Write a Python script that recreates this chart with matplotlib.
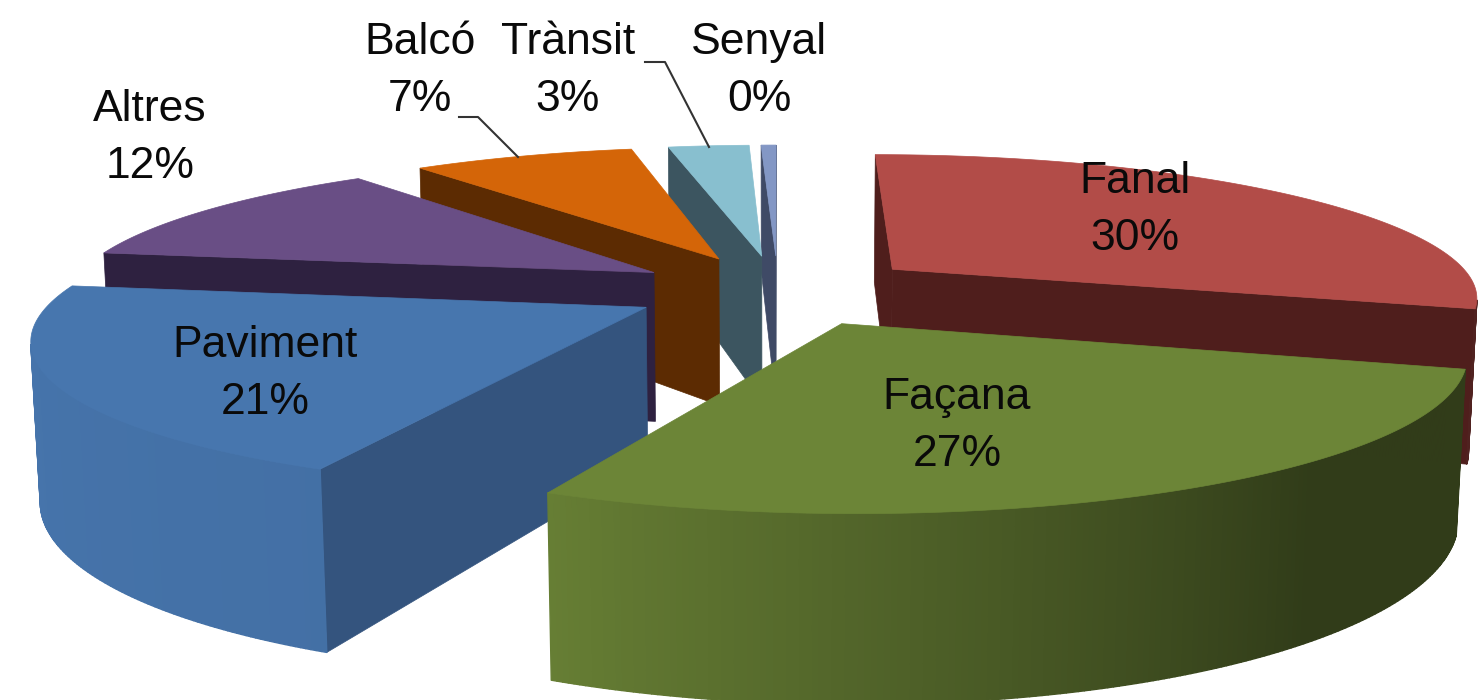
import numpy as np
import matplotlib
matplotlib.use("Agg")
import matplotlib.pyplot as plt
from matplotlib.collections import PolyCollection

plt.rcParams['font.family'] = ['Liberation Sans', 'DejaVu Sans']

# Dades
categories = ["Fanal", "Façana", "Paviment", "Altres", "Balcó", "Trànsit", "Senyal"]
values = [29.6, 27.4, 20.6, 12.1, 7.4, 2.7, 0.5]
explode = [0.25, 0.25, 0.25, 0.25, 0.25, 0.25, 0.25]

top_colors = ["#B24C48", "#6C8537", "#4776AE", "#694E85", "#D46508", "#88BFCF", "#8397C5"]
cut_colors = ["#4F1E1C", "#2E3816", "#34547E", "#2E2140", "#5C2B02", "#3C5560", "#3F4A66"]
label_pos = [(1135, 210), (957, 426), (265, 374), (150, 138), (420, 71), (568, 71), (759, 71)]

# camera
CX, CY = 778, 290
ELEV = np.radians(14.0)
DIST = 5.4
FOCAL = 3170
THICK = 0.27


def project(x, y, z):
    yc = y * np.sin(ELEV) + z * np.cos(ELEV)
    zc = DIST + y * np.cos(ELEV) - z * np.sin(ELEV)
    return CX + FOCAL * x / zc, CY - FOCAL * yc / zc


def quad_area(p):
    x, y = p[:, 0], p[:, 1]
    return 0.5 * np.sum(x * np.roll(y, -1) - np.roll(x, -1) * y)


def rim_shade(theta):
    # more light on the left side of the pie
    return np.interp(theta, [90, 140, 205, 280], [0.45, 0.45, 0.95, 1.0])


def darken(color, k):
    return tuple(np.array(matplotlib.colors.to_rgb(color)) * k)


fig = plt.figure(figsize=(14.84, 7), dpi=100)
ax = fig.add_axes([0, 0, 1, 1])
ax.set_xlim(0, 1484)
ax.set_ylim(700, 0)
ax.axis('off')

fractions = np.array(values) / np.sum(values)
edges = np.concatenate([[0], np.cumsum(fractions) * 360])

wedges = []
for i in range(len(values)):
    t = np.linspace(edges[i], edges[i + 1], max(4, int(edges[i + 1] - edges[i]) * 2))
    mid = np.radians((edges[i] + edges[i + 1]) / 2)
    ox, oy = explode[i] * np.sin(mid), explode[i] * np.cos(mid)
    wedges.append((oy, i, t, ox, oy))

# back to front
for _, i, t, ox, oy in sorted(wedges, key=lambda w: -w[0]):
    rad = np.radians(t)
    rx, ry = ox + np.sin(rad), oy + np.cos(rad)
    tx, ty = project(rx, ry, 0 * rx)
    bx, by = project(rx, ry, 0 * rx - THICK)
    ax0, ay0 = project(ox, oy, 0.0)
    ax1, ay1 = project(ox, oy, -THICK)

    # cut faces
    faces = [
        np.array([[ax0, ay0], [tx[0], ty[0]], [bx[0], by[0]], [ax1, ay1]]),
        np.array([[ax0, ay0], [ax1, ay1], [bx[-1], by[-1]], [tx[-1], ty[-1]]]),
    ]
    for f in faces:
        if quad_area(f) < 0:
            ax.add_patch(plt.Polygon(f, closed=True, fc=cut_colors[i], ec=cut_colors[i], lw=0.5))

    # rim, one small quad per step so the shade can change
    polys, cols = [], []
    for j in range(len(t) - 1):
        q = np.array([[tx[j], ty[j]], [tx[j + 1], ty[j + 1]], [bx[j + 1], by[j + 1]], [bx[j], by[j]]])
        if quad_area(q) < 0:
            polys.append(q)
            cols.append(darken(top_colors[i], rim_shade((t[j] + t[j + 1]) / 2)))
    if polys:
        ax.add_collection(PolyCollection(polys, facecolors=cols, edgecolors=cols, linewidths=1.0))

    # top
    top = np.column_stack([np.r_[ax0, tx], np.r_[ay0, ty]])
    ax.add_patch(plt.Polygon(top, closed=True, fc=top_colors[i], ec=top_colors[i], lw=0.5))

# labels
for i, name in enumerate(categories):
    ax.text(label_pos[i][0], label_pos[i][1], f"{name}\n{round(values[i])}%", ha='center', va='center',
            fontsize=32, color='#0A0A0A', linespacing=1.5)

# leader lines
ax.plot([459, 478, 518], [117, 117, 157], color='#333333', lw=1.5)
ax.plot([645, 665, 709], [62, 62, 147], color='#333333', lw=1.5)

fig.savefig("out.png", dpi=100)
